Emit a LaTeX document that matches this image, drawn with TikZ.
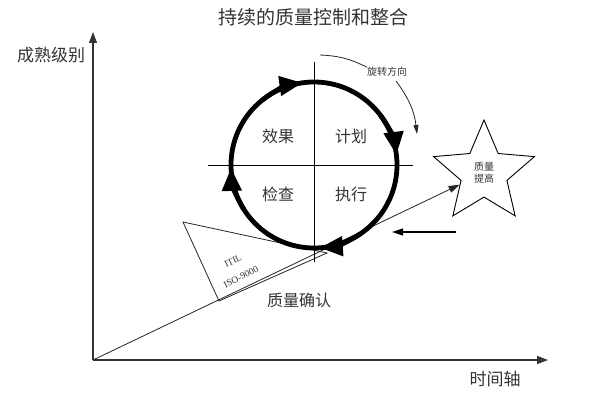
\documentclass[tikz,border=0pt]{standalone}
\usepackage{fontspec}
\newfontfamily\cjk{Noto Sans CJK SC}
\newfontfamily\latinserif{Liberation Serif}
\usetikzlibrary{positioning}
\usetikzlibrary{shapes.geometric, arrows.meta}

\begin{document}
\begin{tikzpicture}[x=1pt, y=-1pt,
  txt/.style={font=\cjk\fontsize{16}{18}\selectfont, text=black!80, inner sep=0pt},
  small/.style={font=\cjk\fontsize{10}{12}\selectfont, text=black!80, inner sep=0pt},
  latin/.style={font=\latinserif\fontsize{9.5}{11}\selectfont, text=black!80, inner sep=0pt, rotate=26},
  axis/.style={line width=1.2pt, draw=black!80, -{Triangle[length=11pt,width=8pt]}},
  thin/.style={line width=0.8pt, draw=black!85},
  cyclearrow/.style={line width=4.8pt, -{Triangle[length=23pt,width=19pt]}}]

\useasboundingbox (0,0) rectangle (597,401);

% title and axes
\node[txt, font=\cjk\fontsize{19}{21}\selectfont] (title) at (313,17) {持续的质量控制和整合};
\coordinate (O) at (93,360);
\coordinate (ytop) at (93,32);
\coordinate (xend) at (548,360);
\draw[axis] (O) -- (ytop);
\draw[axis] (O) -- (xend);
\node[txt, font=\cjk\fontsize{17}{19}\selectfont] (ylabel) at (51,55) {成熟级别};
\node[txt, font=\cjk\fontsize{17}{19}\selectfont] (xlabel) at (495,379) {时间轴};

% quality star
\node[star, star points=5, star point ratio=2.2, draw, line width=0.9pt,
  minimum size=106pt, inner sep=0pt, small, align=center] (star) at (484,173) {质量\\提高};
\draw[thin, -{Triangle[length=11pt,width=7pt]}] (O) -- (star);

% ITIL triangle
\coordinate (tA) at (183,222);
\coordinate (tB) at (219,301);
\coordinate (tC) at (327,253);
\draw[thin] (tA) -- (tB) -- (tC) -- cycle;
\node[latin] (itil) at (233,261) {ITIL};
\node[latin] (iso) at (241,277) {ISO-9000};
\node[txt] (confirm) at (299,300) {质量确认};

% PDCA cycle
\coordinate (C) at (314,165);
\coordinate (hl) at (208,165);
\coordinate (hr) at (413,165);
\coordinate (vt) at (314,62);
\coordinate (vb) at (314,262);
\draw[line width=1pt] (hl) -- (hr);
\draw[line width=1pt] (vt) -- (vb);
\draw[line width=4.8pt] (C) circle[radius=83];
\draw[cyclearrow] ([shift={(-128:83)}]C) arc[start angle=-128, end angle=-98, radius=83];
\draw[cyclearrow] ([shift={(-37:83)}]C) arc[start angle=-37, end angle=-7, radius=83];
\draw[cyclearrow] ([shift={(56:83)}]C) arc[start angle=56, end angle=86, radius=83];
\draw[cyclearrow] ([shift={(148:83)}]C) arc[start angle=148, end angle=178, radius=83];

\node[txt] (act) at (278,136) {效果};
\node[txt] (plan) at (351,136) {计划};
\node[txt] (check) at (278,194) {检查};
\node[txt] (do) at (351,194) {执行};

% rotation direction
\node[small] (rotlbl) at (387,72) {旋转方向};
\coordinate (rotA) at (320,55);
\coordinate (rotB) at (396,81);
\coordinate (rotC) at (417,134);
\draw[thin] (rotA) to[bend left=12] (rotlbl.north west);
\draw[thin, -{Triangle[length=9pt,width=5pt]}] (rotB) to[bend left=15] (rotC);

% push arrow
\coordinate (pushA) at (456,232);
\coordinate (pushB) at (392,232);
\draw[line width=1.1pt, -{Triangle[length=11pt,width=7pt]}] (pushA) -- (pushB);

\end{tikzpicture}
\end{document}
